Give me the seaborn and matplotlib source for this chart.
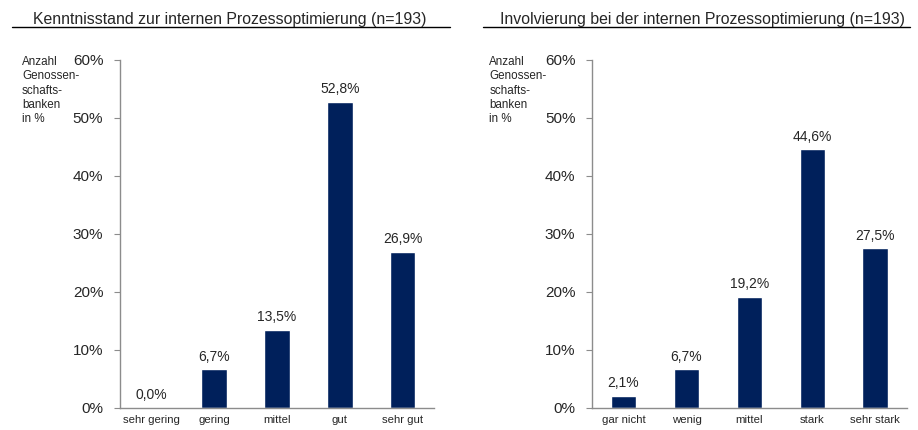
import matplotlib
matplotlib.use("Agg")
import matplotlib.pyplot as plt
import seaborn as sns
import pandas as pd
from matplotlib.lines import Line2D

sns.set_style("white")
plt.rcParams['font.family'] = ['Liberation Sans', 'DejaVu Sans']

# data
kenntnis_cats = ["sehr gering", "gering", "mittel", "gut", "sehr gut"]
kenntnis_vals = [0.0, 6.7, 13.5, 52.8, 26.9]
invol_cats = ["gar nicht", "wenig", "mittel", "stark", "sehr stark"]
invol_vals = [2.1, 6.7, 19.2, 44.6, 27.5]
titles = ["Kenntnisstand zur internen Prozessoptimierung (n=193)",
          "Involvierung bei der internen Prozessoptimierung (n=193)"]
ylabel_lines = ["Anzahl", "Genossen-", "schafts-", "banken", "in %"]

navy = "#00205B"
gray = "#8C8C8C"

fig = plt.figure(figsize=(9.18, 4.30), dpi=100)

panels = [
    (kenntnis_cats, kenntnis_vals, [0.1307, 0.0512, 0.342, 0.8093], 0.2505, (0.013, 0.490), 0.024),
    (invol_cats, invol_vals, [0.6449, 0.0512, 0.343, 0.8093], 0.765, (0.526, 0.991), 0.533),
]

for (cats, vals, rect, tx, (lx0, lx1), yl_x), title in zip(panels, titles):
    ax = fig.add_axes(rect)
    df = pd.DataFrame({"cat": cats, "val": vals})
    sns.barplot(data=df, x="cat", y="val", color=navy, width=0.41,
                saturation=1, ax=ax)
    ax.bar_label(ax.containers[0],
                 labels=[f"{v:.1f}%".replace(".", ",") for v in vals],
                 padding=4, fontsize=10)
    ax.set_xlim(-0.5, 4.5)
    ax.set_ylim(0, 60)
    ax.set_yticks(range(0, 61, 10))
    ax.set_yticklabels([f"{t}%" for t in range(0, 61, 10)], fontsize=11)
    ax.set_xticks(range(5))
    ax.set_xticklabels(cats, fontsize=8.2)
    ax.set_xticks([i - 0.5 for i in range(6)], minor=True)
    ax.tick_params(axis="x", which="major", length=0, pad=5)
    ax.tick_params(axis="x", which="minor", length=4, color=gray, direction="out")
    ax.tick_params(axis="y", length=4, color=gray, direction="out", pad=8, left=True)
    ax.set_xlabel("")
    ax.set_ylabel("")
    for s in ["top", "right"]:
        ax.spines[s].set_visible(False)
    for s in ["left", "bottom"]:
        ax.spines[s].set_color(gray)
        ax.spines[s].set_linewidth(1)
    ax.grid(False)

    fig.text(tx, 0.955, title, ha="center", va="center", fontsize=11.4)
    fig.add_artist(Line2D([lx0, lx1], [0.937, 0.937], color="black", lw=1,
                          transform=fig.transFigure))
    for i, line in enumerate(ylabel_lines):
        fig.text(yl_x, 1 - (62 + 14.3 * i) / 430, line, ha="left",
                 va="center", fontsize=8.4)

fig.savefig("out.png", dpi=100)
